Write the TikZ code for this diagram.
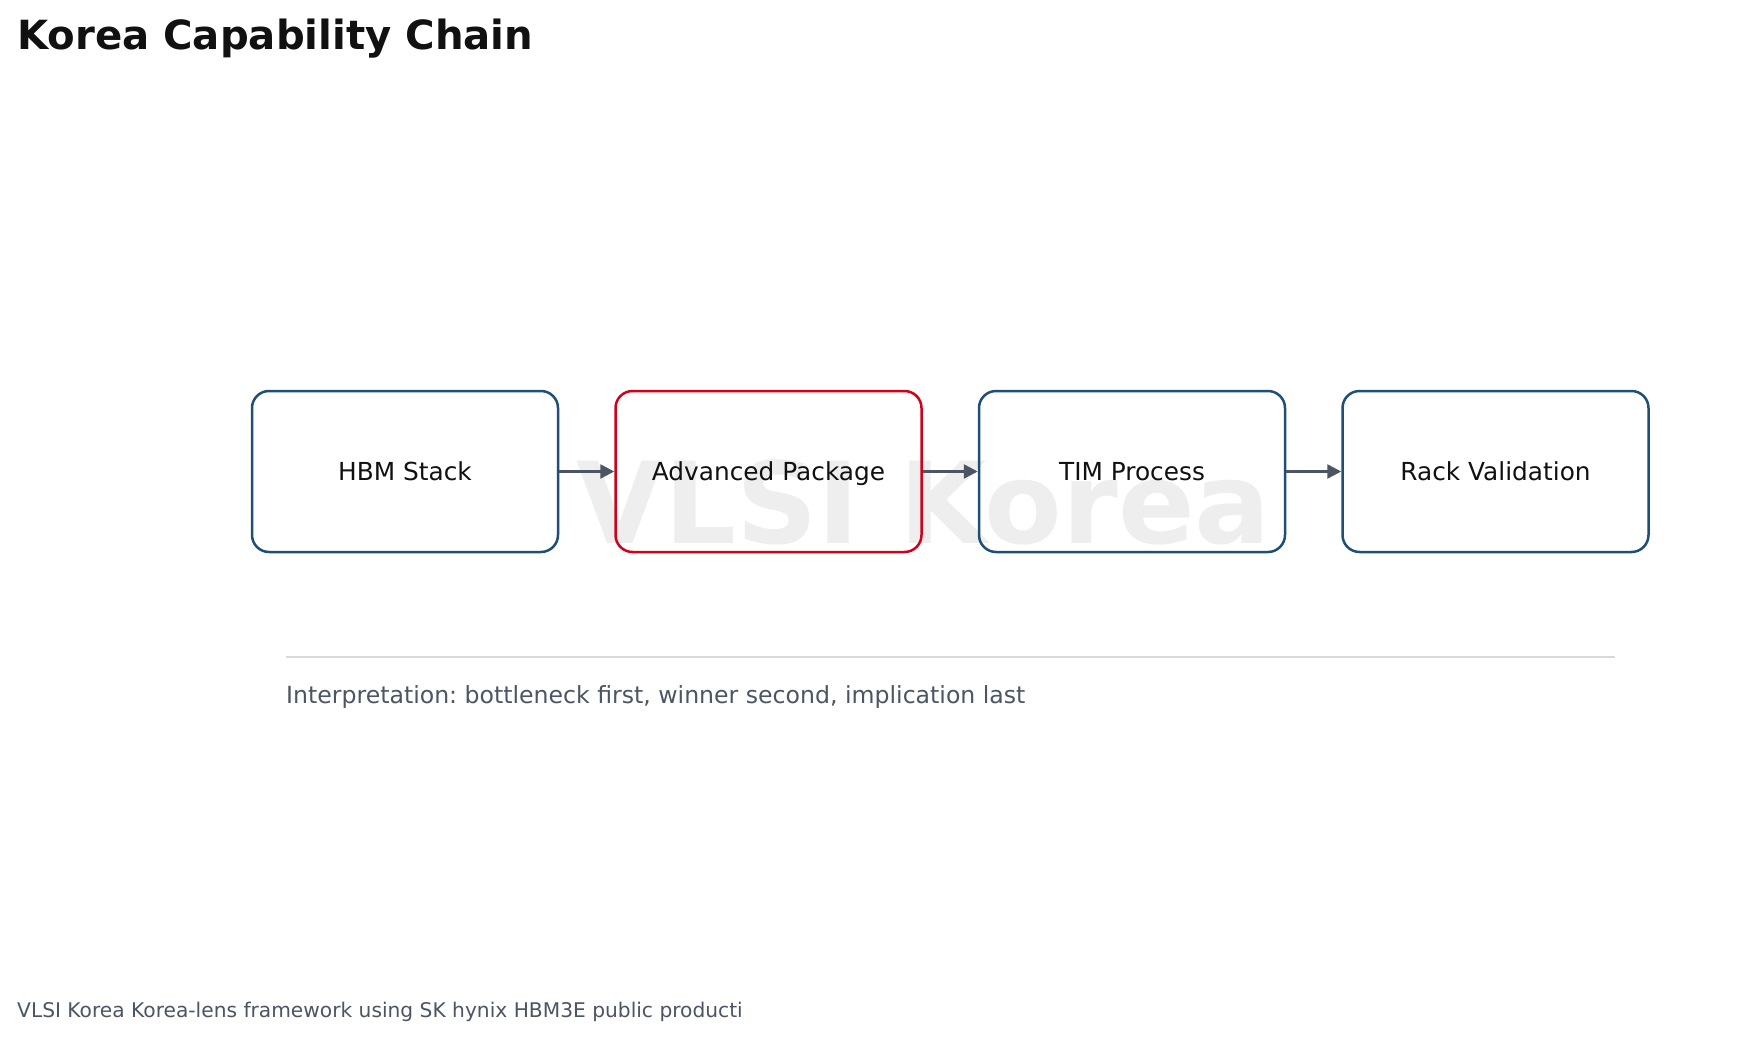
\documentclass[tikz,border=0pt]{standalone}
\usepackage{fontspec}
\setmainfont{DejaVu Sans}
\usetikzlibrary{arrows.meta,positioning,backgrounds}
\definecolor{ink}{HTML}{111111}
\definecolor{mut}{HTML}{4B5563}
\definecolor{stg}{HTML}{1F4E79}
\definecolor{hot}{HTML}{D0021B}
\definecolor{rul}{HTML}{D9D9D9}
\definecolor{wmk}{HTML}{EEEEEE}
\tikzset{
  stage/.style ={draw=stg,line width=2.5pt,rounded corners=17pt,minimum width=306pt,minimum height=161pt,
                 align=center,font=\fontsize{24.8}{28}\selectfont,text=ink,inner sep=0pt,
                 text height=20pt,text depth=3pt},
  hotstage/.style={stage,draw=hot},
  a/.style     ={-{Triangle[length=14pt,width=14pt]},line width=2.5pt,mut},
  note/.style  ={anchor=base west,text=mut,inner sep=0pt},
}
\frenchspacing
\begin{document}
\begin{tikzpicture}[x=1pt,y=-1pt]
\useasboundingbox (0,0) rectangle (1757,1038);
% ===== title =====
\node[anchor=base west,inner sep=0pt,text=ink,font=\fontsize{40.2}{48}\selectfont\bfseries] (title) at (17,50) {Korea Capability Chain};

% ===== chain =====
\node[stage] (hbm) at (405,471.5) {HBM Stack};
\node[hotstage,right=55pt of hbm] (pkg) {Advanced Package};
\node[stage,right=55pt of pkg] (tim) {TIM Process};
\node[stage,right=55pt of tim] (rack) {Rack Validation};
\draw[a] (hbm) -- (pkg); \draw[a] (pkg) -- (tim); \draw[a] (tim) -- (rack);

% ===== watermark =====
\begin{scope}[on background layer]
  \fill[white] (0,0) rectangle (1757,1038);
  \node[text=wmk,font=\fontsize{113}{120}\selectfont\bfseries,inner sep=0pt] (wm) at (924,502) {VLSI Korea};
\end{scope}

% ===== interpretation + footer =====
\coordinate (rl) at (286,657); \coordinate (rr) at (1615,657);
\draw[rul,line width=2pt] (rl) -- (rr);
\node[note,font=\fontsize{23.6}{28}\selectfont] (interp) at (286,703) {Interpretation: bottleneck first, winner second, implication last};
\node[note,font=\fontsize{20.2}{24}\selectfont] (foot) at (17,1017) {VLSI Korea Korea-lens framework using SK hynix HBM3E public producti};
\end{tikzpicture}
\end{document}
